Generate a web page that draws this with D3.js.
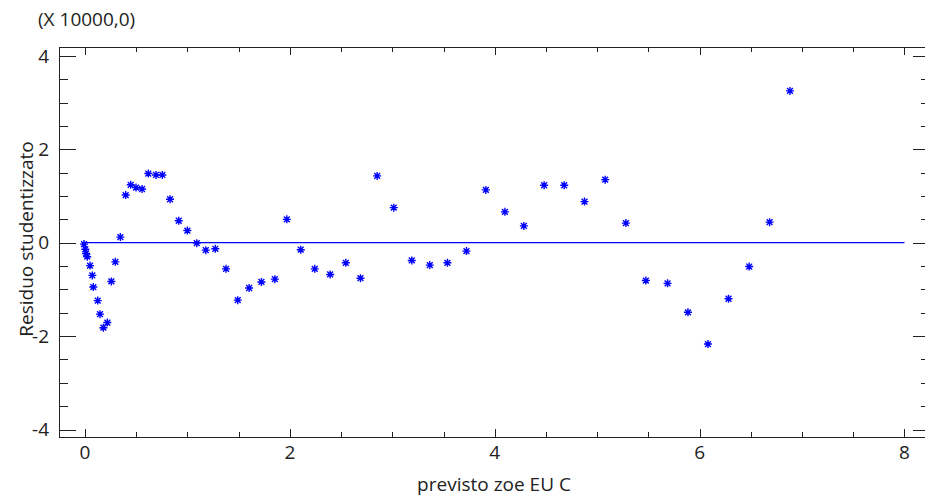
<!DOCTYPE html>
<html>
<head>
<meta charset="utf-8">
<script src="https://cdn.jsdelivr.net/npm/d3@7"></script>
<style>
  body { margin: 0; background: #fff; }
  svg text { font-family: "Open Sans", sans-serif; fill: #222; }
</style>
</head>
<body>
<svg id="chart" width="925" height="497"></svg>
<script>
// Data (x in units of 10000)
const predicted = [
  -0.01, 0.003, 0.01, 0.022, 0.049, 0.071, 0.081, 0.124, 0.146, 0.179,
  0.218, 0.257, 0.296, 0.345, 0.397, 0.446, 0.498, 0.557, 0.618, 0.693,
  0.755, 0.830, 0.915, 0.999, 1.091, 1.179, 1.272, 1.377, 1.491, 1.602,
  1.722, 1.853, 1.970, 2.106, 2.243, 2.393, 2.546, 2.689, 2.852, 3.014,
  3.190, 3.366, 3.538, 3.724, 3.913, 4.099, 4.284, 4.482, 4.678, 4.876,
  5.078, 5.280, 5.475, 5.687, 5.886, 6.081, 6.282, 6.484, 6.683, 6.882
];
const residuals = [
  -0.03, -0.14, -0.23, -0.30, -0.49, -0.70, -0.95, -1.24, -1.53, -1.82,
  -1.71, -0.83, -0.41, 0.12, 1.02, 1.24, 1.18, 1.15, 1.48, 1.45,
  1.45, 0.93, 0.47, 0.26, -0.01, -0.16, -0.13, -0.56, -1.23, -0.97,
  -0.84, -0.78, 0.50, -0.15, -0.56, -0.68, -0.43, -0.76, 1.43, 0.75,
  -0.38, -0.48, -0.43, -0.18, 1.13, 0.66, 0.36, 1.23, 1.23, 0.88,
  1.35, 0.42, -0.81, -0.87, -1.49, -2.17, -1.20, -0.51, 0.44, 3.25
];
const xTicks = [0, 2, 4, 6, 8];
const yTicks = [-4, -2, 0, 2, 4];
const xMinor = d3.range(0, 8.01, 0.5).filter(v => v % 2 !== 0);
const yMinor = d3.range(-4, 4.01, 0.5).filter(v => v % 2 !== 0);

const FRAME = { left: 59, top: 47, right: 930, bottom: 437 };
const BLUE = '#0000ff';

const svg = d3.select('#chart');

const x = d3.scaleLinear().domain([-0.254, 8.249]).range([FRAME.left, FRAME.right]);
const y = d3.scaleLinear().domain([-4.16, 4.19]).range([FRAME.bottom, FRAME.top]);

// Frame
svg.append('rect')
    .attr('x', FRAME.left + 0.5)
    .attr('y', FRAME.top + 0.5)
    .attr('width', FRAME.right - FRAME.left)
    .attr('height', FRAME.bottom - FRAME.top)
    .attr('fill', 'none')
    .attr('stroke', '#222')
    .attr('stroke-width', 1);

// Inward ticks on all four sides
function tickLines(values, len, side) {
    svg.append('g').selectAll('line')
        .data(values)
        .enter().append('line')
        .attr('stroke', '#222')
        .attr('stroke-width', 1)
        .attr('x1', d => side === 'left' ? FRAME.left : side === 'right' ? FRAME.right : Math.round(x(d)) + 0.5)
        .attr('x2', d => side === 'left' ? FRAME.left + len : side === 'right' ? FRAME.right - len : Math.round(x(d)) + 0.5)
        .attr('y1', d => side === 'bottom' ? FRAME.bottom : side === 'top' ? FRAME.top : Math.round(y(d)) + 0.5)
        .attr('y2', d => side === 'bottom' ? FRAME.bottom - len : side === 'top' ? FRAME.top + len : Math.round(y(d)) + 0.5);
}
tickLines(xTicks, 8, 'bottom');
tickLines(xMinor, 5, 'bottom');
tickLines(xTicks, 8, 'top');
tickLines(xMinor, 5, 'top');
tickLines(yTicks, 17, 'left');
tickLines(yMinor, 9, 'left');
tickLines(yTicks, 17, 'right');
tickLines(yMinor, 9, 'right');

// Tick labels
svg.append('g').selectAll('text')
    .data(xTicks)
    .enter().append('text')
    .attr('x', d => x(d))
    .attr('y', 459)
    .attr('text-anchor', 'middle')
    .style('font-size', '19px')
    .text(d => d);

svg.append('g').selectAll('text')
    .data(yTicks)
    .enter().append('text')
    .attr('x', 49)
    .attr('y', d => y(d))
    .attr('dy', '0.35em')
    .attr('text-anchor', 'end')
    .style('font-size', '19px')
    .text(d => d);

// Titles
svg.append('text')
    .attr('x', 38)
    .attr('y', 26)
    .style('font-size', '19px')
    .text('(X 10000,0)');

svg.append('text')
    .attr('x', 494)
    .attr('y', 491)
    .attr('text-anchor', 'middle')
    .style('font-size', '19px')
    .text('previsto zoe EU C');

svg.append('text')
    .attr('transform', 'translate(33,239) rotate(-90)')
    .attr('text-anchor', 'middle')
    .style('font-size', '19px')
    .text('Residuo studentizzato');

// Zero reference line
svg.append('line')
    .attr('x1', x(0))
    .attr('x2', x(8))
    .attr('y1', y(0))
    .attr('y2', y(0))
    .attr('stroke', BLUE)
    .attr('stroke-width', 1.3);

// Asterisk markers
const r = 4, d = 2.9;
const star = `M${-r},0L${r},0M0,${-r}L0,${r}M${-d},${-d}L${d},${d}M${-d},${d}L${d},${-d}`;
const points = predicted.map((v, i) => ({ x: v, y: residuals[i] }));

const marks = svg.append('g').selectAll('g')
    .data(points)
    .enter().append('g')
    .attr('transform', p => `translate(${x(p.x)},${y(p.y)})`);

marks.append('path')
    .attr('d', star)
    .attr('stroke', BLUE)
    .attr('stroke-width', 1.4)
    .attr('fill', 'none');

marks.append('circle')
    .attr('r', 1.8)
    .attr('fill', BLUE);
</script>
</body>
</html>
